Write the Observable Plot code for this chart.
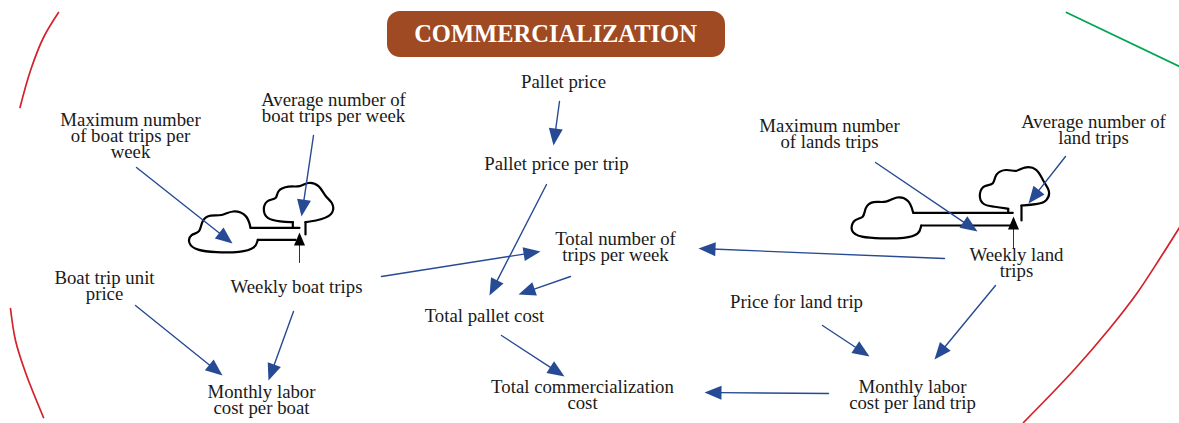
<!DOCTYPE html>
<html><head><meta charset="utf-8">
<style>html,body{margin:0;padding:0;background:#fff}svg{display:block}</style>
<script src="https://cdn.jsdelivr.net/npm/d3@7"></script>
<script src="https://cdn.jsdelivr.net/npm/@observablehq/plot@0.6"></script>
</head><body><div id="chart"></div>
<script>
const titleBox = [{x1:387,x2:725,y1:11,y2:57}];
const titleLabel = [{x:555,y:34,text:"COMMERCIALIZATION"}];
const labels = [
 [130,136,"Maximum number\nof boat trips per\nweek"],
 [333,108.5,"Average number of\nboat trips per week"],
 [104,286.5,"Boat trip unit\nprice"],
 [296,287,"Weekly boat trips"],
 [261,400.5,"Monthly labor\ncost per boat"],
 [563,82,"Pallet price"],
 [556,164,"Pallet price per trip"],
 [615,247.5,"Total number of\ntrips per week"],
 [484,316,"Total pallet cost"],
 [582,395,"Total commercialization\ncost"],
 [829,134.5,"Maximum number\nof lands trips"],
 [1093,130.5,"Average number of\nland trips"],
 [1016,263.5,"Weekly land\ntrips"],
 [796,302,"Price for land trip"],
 [912,395.5,"Monthly labor\ncost per land trip"]
];
const blueArrows = [
 [136,167,232,243],[313,135,301,216],[135,305,222,375],[293,311,268,380],
 [381,276,540,251],[559,101,553,145],[546,184,489,295],[570,276,518,294],
 [501,335,564,376],[828,393,704,392],[822,325,869,356],[995,285,934,359],
 [944,258,698,248],[875,162,977,231],[1065,156,1028,203]
];
const blackArrows = [[299,262,299,232],[1013,248,1013,216]];
const cloudOutlines = [
 [[250,227.3],[247,214],[232,209],[221,216],[210,214],[201,219],[200,233],[190,233],[187,243],[196,250],[215,252],[240,252],[255,248],[257.3,239.3]],
 [[292.3,221.7],[280,221],[266,219],[262,209],[266,199],[277,199],[276,190],[288,185],[300,187],[307,181],[319,184],[325,197],[332,201],[334,213],[322,219],[305,221.7]],
 [[912.7,212.3],[909,199],[896,195],[886,203],[872,200],[864,207],[864,218],[853,218],[849,231],[860,237],[880,238],[905,238],[919,234],[920.7,225]],
 [[1007.7,208.3],[994,206],[981,205],[978,192],[984,184],[994,185],[994,173],[1006,168],[1016,172],[1023,166],[1037,167],[1043,182],[1050,190],[1047,201],[1036,204],[1021,205]]
];
const pipes = [
 [[250,227.3],[299,227.3]],[[257.3,239.3],[295,239.3]],
 [[292.3,227.3],[292.3,221.7]],[[305,221.7],[305,234]],
 [[912.7,212.3],[1012.3,212.3]],[[920.7,225],[1010,225]],
 [[1007.7,212.3],[1007.7,208.3]],[[1021,205],[1021,220]]
];
const redArcs = [
 [[58,12],[43,37],[30,70],[19.5,107]],
 [[10,308],[15,340],[25,372],[43,417]],
 [[1179,227],[1160,257],[1137,292],[1110,327],[1073,370],[1023,422]]
];
const greenLine = [[1066,12],[1179,66]];

const paths = (arr) => arr.flatMap((pts,i)=>pts.map(p=>({x:p[0],y:p[1],id:i})));
function shafts(arrows,len){ return arrows.flatMap((a,i)=>{
  const d=Math.hypot(a[2]-a[0],a[3]-a[1]),ux=(a[2]-a[0])/d,uy=(a[3]-a[1])/d;
  return [{x:a[0],y:a[1],id:i},{x:a[2]-ux*len*0.8,y:a[3]-uy*len*0.8,id:i}];
});}
function heads(arrows,len,hw){ return arrows.flatMap((a,i)=>{
  const d=Math.hypot(a[2]-a[0],a[3]-a[1]),ux=(a[2]-a[0])/d,uy=(a[3]-a[1])/d;
  const bx=a[2]-ux*len,by=a[3]-uy*len;
  return [{x:a[2],y:a[3],id:i},{x:bx-uy*hw,y:by+ux*hw,id:i},{x:bx+uy*hw,y:by-ux*hw,id:i}];
});}
const BLUE="#264a94", BLACK="#000", FONT="'Liberation Serif',serif";
const plot = Plot.plot({
  width:1179,height:423,margin:0,
  x:{domain:[0,1179],range:[0,1179],axis:null},
  y:{domain:[0,423],range:[0,423],axis:null},
  style:{fontFamily:FONT,background:"#fff"},
  marks:[
    Plot.line(paths(redArcs),{x:"x",y:"y",z:"id",stroke:"#d2232a",strokeWidth:1.7,curve:"catmull-rom"}),
    Plot.line(paths([greenLine]),{x:"x",y:"y",z:"id",stroke:"#00a651",strokeWidth:1.8}),
    Plot.rect(titleBox,{x1:"x1",x2:"x2",y1:"y1",y2:"y2",fill:"#a04a23",r:13}),
    Plot.text(titleLabel,{x:"x",y:"y",text:"text",fill:"#fff",fontWeight:"bold",fontSize:24.5,fontFamily:FONT}),
    Plot.line(paths(cloudOutlines),{x:"x",y:"y",z:"id",stroke:BLACK,strokeWidth:2.2,curve:"basis"}),
    Plot.line(paths(pipes),{x:"x",y:"y",z:"id",stroke:BLACK,strokeWidth:2.2}),
    Plot.line(shafts(blackArrows,13),{x:"x",y:"y",z:"id",stroke:"#333",strokeWidth:1}),
    Plot.line(heads(blackArrows,13,5.5),{x:"x",y:"y",z:"id",fill:BLACK,stroke:"none"}),
    Plot.line(shafts(blueArrows,17),{x:"x",y:"y",z:"id",stroke:BLUE,strokeWidth:1.4}),
    Plot.line(heads(blueArrows,17,7),{x:"x",y:"y",z:"id",fill:BLUE,stroke:"none"}),
    Plot.text(labels,{x:d=>d[0],y:d=>d[1],text:d=>d[2],fill:"#1a1a1a",fontSize:18.8,lineHeight:0.85,fontFamily:FONT})
  ]
});
document.getElementById("chart").append(plot);
</script></body></html>
